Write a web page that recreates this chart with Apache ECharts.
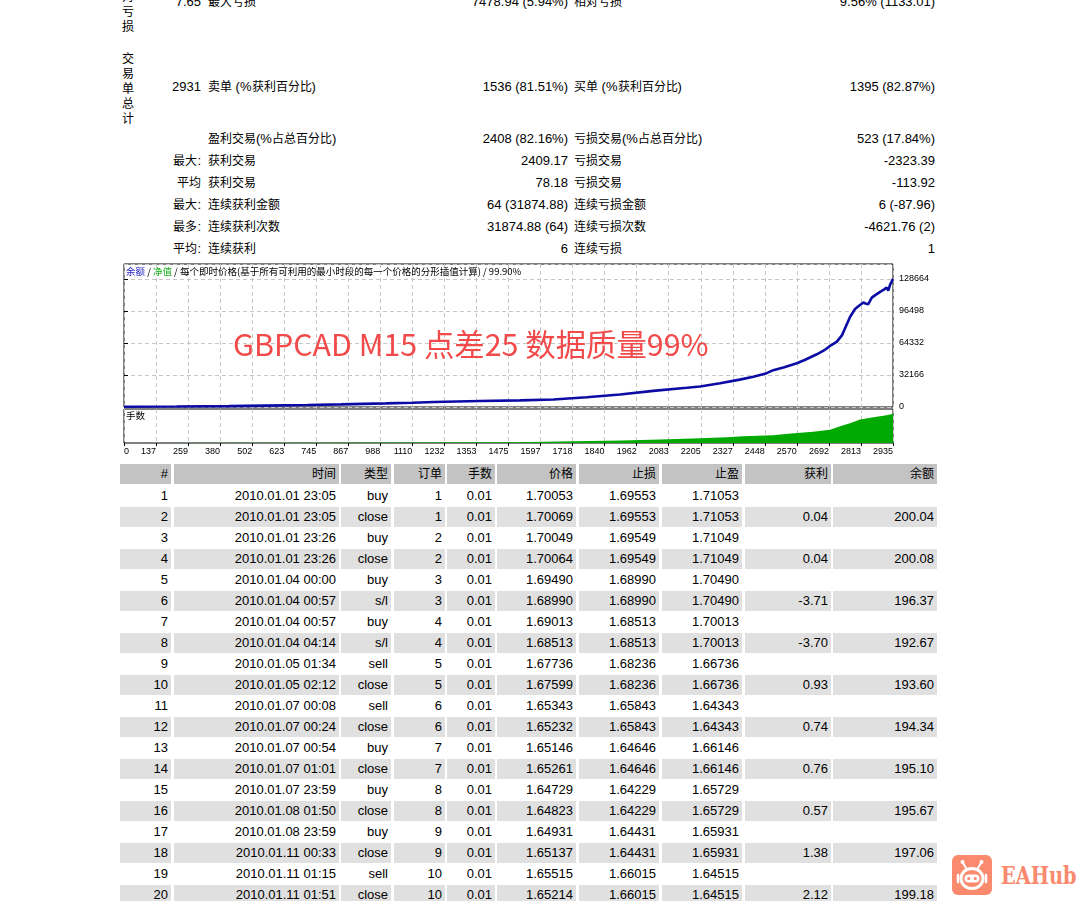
<!DOCTYPE html>
<html><head><meta charset="utf-8">
<script src="https://cdn.jsdelivr.net/npm/echarts@6/dist/echarts.min.js"></script>
<style>
@font-face{font-family:'cjk12';src:local('Noto Sans CJK SC'),local('Noto Sans CJK SC Regular'),local('NotoSansCJKsc-Regular');size-adjust:92%;}
html,body{margin:0;padding:0;background:#fff;width:1091px;height:901px;overflow:hidden;}
body{position:relative;font-family:'Liberation Sans','cjk12','Noto Sans CJK SC',sans-serif;font-size:13px;color:#000;}
.t{position:absolute;white-space:nowrap;line-height:16px;height:16px;}
.vert{position:absolute;left:121px;width:14px;font-size:12px;line-height:15px;text-align:center;font-family:'Noto Sans CJK SC',sans-serif;}
#chart{position:absolute;left:0;top:0;width:1091px;height:462px;}
.cell{position:absolute;height:20px;line-height:20px;text-align:right;padding-right:3px;box-sizing:border-box;white-space:nowrap;}
#logo{position:absolute;left:952px;top:855px;width:40px;height:40px;}
#brand{position:absolute;left:1001px;top:860px;height:32px;line-height:32px;font-family:'DejaVu Serif Condensed','DejaVu Serif',serif;font-weight:bold;font-size:25px;color:#f98a6d;transform:scaleX(0.86);transform-origin:left center;white-space:nowrap;}
</style></head>
<body>
<div id="stats"></div>
<div id="chart"></div>
<div id="table"></div>
<svg id="logo" viewBox="0 0 40 40">
  <rect width="40" height="40" rx="6" fill="#f98a6d"/>
  <line x1="14" y1="13" x2="11" y2="8" stroke="#fff" stroke-width="2" stroke-linecap="round"/>
  <circle cx="10.5" cy="7" r="2" fill="#fff"/>
  <line x1="26" y1="13" x2="29" y2="8" stroke="#fff" stroke-width="2" stroke-linecap="round"/>
  <circle cx="29.5" cy="7" r="2" fill="#fff"/>
  <ellipse cx="20" cy="23.5" rx="11" ry="10" fill="none" stroke="#fff" stroke-width="3"/>
  <rect x="12.5" y="19.5" width="15" height="8" rx="4" fill="#fff"/>
  <circle cx="16.8" cy="23.5" r="1.6" fill="#f98a6d"/>
  <circle cx="23.2" cy="23.5" r="1.6" fill="#f98a6d"/>
  <line x1="6" y1="20" x2="6" y2="27" stroke="#fff" stroke-width="2.5" stroke-linecap="round"/>
  <line x1="34" y1="20" x2="34" y2="27" stroke="#fff" stroke-width="2.5" stroke-linecap="round"/>
</svg>
<div id="brand">EAHub</div>
<script>
// ---------- data ----------
const statGroupLabels = ['绝对亏损', '交易单总计'];
const statLeft   = ['7.65', '2931', '', '最大:', '平均', '最大:', '最多:', '平均:'];
const statLabelA = ['最大亏损', '卖单 (%获利百分比)', '盈利交易(%占总百分比)', '获利交易', '获利交易', '连续获利金额', '连续获利次数', '连续获利'];
const statValueA = ['7478.94 (5.94%)', '1536 (81.51%)', '2408 (82.16%)', '2409.17', '78.18', '64 (31874.88)', '31874.88 (64)', '6'];
const statLabelB = ['相对亏损', '买单 (%获利百分比)', '亏损交易(%占总百分比)', '亏损交易', '亏损交易', '连续亏损金额', '连续亏损次数', '连续亏损'];
const statValueB = ['9.56% (1133.01)', '1395 (82.87%)', '523 (17.84%)', '-2323.39', '-113.92', '6 (-87.96)', '-4621.76 (2)', '1'];

const chartTitle = '每个即时价格(基于所有可利用的最小时段的每一个价格的分形插值计算)';
const balanceName = '余额';
const equityName = '净值';
const qualityLabel = '99.90%';
const lotsPanelName = '手数';
const watermark = 'GBPCAD M15 点差25 数据质量99%';

const xTickLabels = ['0','137','259','380','502','623','745','867','988','1110','1232','1353','1475','1597','1718','1840','1962','2083','2205','2327','2448','2570','2692','2813','2935'];
const xMax = 2935;
const yTickInterval = 32166;
const yMax = 143742;
const lotMax = 10;

const balanceTrades = [0,200,400,537,700,827,1000,1100,1183,1358,1511,1639,1766,1893,2020,2148,2199,2275,2350,2402,2453,2478,2520,2568,2600,2644,2675,2701,2720,2740,2755,2771,2790,2809,2822,2830,2840,2854,2870,2886,2900,2911,2917,2924,2930,2935];
const balanceValues = [200,500,900,1400,2000,2600,3600,4300,5000,6000,6700,7600,9800,12500,16200,19300,20600,23800,27500,30500,34000,37000,40000,44000,47500,53000,57500,62500,65500,72000,81000,90500,98500,102500,105000,104000,103200,110000,113000,115800,118000,120000,117000,123000,126000,128800];

const lotTrades = [0,600,1100,1500,1657,1900,2046,2199,2300,2363,2477,2535,2630,2695,2733,2771,2809,2860,2911,2935];
const lotValues = [0.01,0.05,0.15,0.25,0.44,0.74,1.03,1.41,1.71,2.0,2.29,2.7,3.29,3.88,4.94,5.82,6.91,7.59,8.18,8.59];

const tblHeaders = ['#','时间','类型','订单','手数','价格','止损','止盈','获利','余额'];
const tblNo      = ['1','2','3','4','5','6','7','8','9','10','11','12','13','14','15','16','17','18','19','20'];
const tblTime    = ['2010.01.01 23:05','2010.01.01 23:05','2010.01.01 23:26','2010.01.01 23:26','2010.01.04 00:00','2010.01.04 00:57','2010.01.04 00:57','2010.01.04 04:14','2010.01.05 01:34','2010.01.05 02:12','2010.01.07 00:08','2010.01.07 00:24','2010.01.07 00:54','2010.01.07 01:01','2010.01.07 23:59','2010.01.08 01:50','2010.01.08 23:59','2010.01.11 00:33','2010.01.11 01:15','2010.01.11 01:51'];
const tblType    = ['buy','close','buy','close','buy','s/l','buy','s/l','sell','close','sell','close','buy','close','buy','close','buy','close','sell','close'];
const tblOrder   = ['1','1','2','2','3','3','4','4','5','5','6','6','7','7','8','8','9','9','10','10'];
const tblLots    = ['0.01','0.01','0.01','0.01','0.01','0.01','0.01','0.01','0.01','0.01','0.01','0.01','0.01','0.01','0.01','0.01','0.01','0.01','0.01','0.01'];
const tblPrice   = ['1.70053','1.70069','1.70049','1.70064','1.69490','1.68990','1.69013','1.68513','1.67736','1.67599','1.65343','1.65232','1.65146','1.65261','1.64729','1.64823','1.64931','1.65137','1.65515','1.65214'];
const tblSL      = ['1.69553','1.69553','1.69549','1.69549','1.68990','1.68990','1.68513','1.68513','1.68236','1.68236','1.65843','1.65843','1.64646','1.64646','1.64229','1.64229','1.64431','1.64431','1.66015','1.66015'];
const tblTP      = ['1.71053','1.71053','1.71049','1.71049','1.70490','1.70490','1.70013','1.70013','1.66736','1.66736','1.64343','1.64343','1.66146','1.66146','1.65729','1.65729','1.65931','1.65931','1.64515','1.64515'];
const tblProfit  = ['','0.04','','0.04','','-3.71','','-3.70','','0.93','','0.74','','0.76','','0.57','','1.38','','2.12'];
const tblBalance = ['','200.04','','200.08','','196.37','','192.67','','193.60','','194.34','','195.10','','195.67','','197.06','','199.18'];

// ---------- layout (not data) ----------
const statRowY = [2,87,139,161,183,205,227,249];
const groupTop = [-27.5, 49.5];
const colBox = [[120,171],[174,339],[341,391],[394,445],[447,495],[497,576],[579,659],[662,742],[745,831],[833,937]];

// ---------- stats block ----------
(function(){
  const s = document.getElementById('stats');
  let h = '';
  statGroupLabels.forEach((g,i)=>{
    h += '<div class="vert" style="top:'+groupTop[i]+'px">' + g.split('').join('<br>') + '</div>';
  });
  function right(txt, edge, y){ return '<div class="t" style="left:'+(edge-300)+'px;width:300px;text-align:right;top:'+(y-8)+'px">'+txt+'</div>'; }
  function left(txt, x, y){ return '<div class="t" style="left:'+x+'px;top:'+(y-8)+'px">'+txt+'</div>'; }
  statRowY.forEach((y,i)=>{
    h += right(statLeft[i], 201, y);
    h += left(statLabelA[i], 208, y);
    h += right(statValueA[i], 568, y);
    h += left(statLabelB[i], 574, y);
    h += right(statValueB[i], 935, y);
  });
  s.innerHTML = h;
})();

// ---------- trade table ----------
(function(){
  const t = document.getElementById('table');
  const cols = [tblNo,tblTime,tblType,tblOrder,tblLots,tblPrice,tblSL,tblTP,tblProfit,tblBalance];
  let h = '';
  tblHeaders.forEach((txt,c)=>{
    h += '<div class="cell" style="left:'+colBox[c][0]+'px;width:'+(colBox[c][1]-colBox[c][0])+'px;top:464px;background:#c3c3c3">'+txt+'</div>';
  });
  for (let r=0; r<tblNo.length; r++){
    const top = 486 + 21*r;
    const bg = (r%2===1) ? '#e0e0e0' : '#ffffff';
    cols.forEach((arr,c)=>{
      h += '<div class="cell" style="left:'+colBox[c][0]+'px;width:'+(colBox[c][1]-colBox[c][0])+'px;top:'+top+'px;background:'+bg+'">'+arr[r]+'</div>';
    });
  }
  t.innerHTML = h;
})();

// ---------- chart ----------
const chart = echarts.init(document.getElementById('chart'));
const F = 'Liberation Sans, Noto Sans CJK SC, sans-serif';
const dash = {color:'#c6c6c6', type:[4,3], width:1};
chart.setOption({
  animation:false,
  title:[
    {left:126, top:267, padding:0,
     text:'{b|'+balanceName+'} / {g|'+equityName+'} / '+chartTitle+' / '+qualityLabel,
     textStyle:{fontSize:9.5, fontWeight:'normal', color:'#000', fontFamily:'Noto Sans CJK SC',
       rich:{b:{color:'#2424c8',fontSize:9.5,fontFamily:'Noto Sans CJK SC'}, g:{color:'#18b018',fontSize:9.5,fontFamily:'Noto Sans CJK SC'}}}},
    {left:126, top:411, padding:0, text:lotsPanelName,
     textStyle:{fontSize:9.5, fontWeight:'normal', color:'#000', fontFamily:'Noto Sans CJK SC'}}
  ],
  graphic:[{type:'text', left:233, top:329, z:100,
    style:{text:watermark, fontSize:30.4, fill:'#f24a4a', fontFamily:'Noto Sans CJK SC'}}],
  grid:[
    {left:124, top:264, width:769, height:143, show:true, borderColor:'#000', borderWidth:1, backgroundColor:'#fff'},
    {left:124, top:409, width:769, height:34, show:true, borderColor:'#000', borderWidth:1, backgroundColor:'#fff'}
  ],
  xAxis:[
    {type:'category', gridIndex:0, position:'bottom', data:xTickLabels, boundaryGap:false,
     axisLine:{show:false}, axisTick:{show:false}, axisLabel:{show:false},
     splitLine:{show:true, interval:0, lineStyle:dash}},
    {type:'value', gridIndex:0, position:'bottom', min:0, max:xMax, show:false},
    {type:'category', gridIndex:1, position:'bottom', data:xTickLabels, boundaryGap:false,
     axisLine:{show:false},
     axisTick:{show:true, inside:false, length:3, interval:0, lineStyle:{color:'#000'}},
     axisLabel:{interval:0, align:'right', margin:4, fontSize:9, color:'#000', fontFamily:F, hideOverlap:false,
       formatter:(v,i)=> i===0 ? '' : v},
     splitLine:{show:true, interval:0, lineStyle:dash}},
    {type:'value', gridIndex:1, position:'bottom', offset:0, min:0, max:xMax, interval:xMax,
     axisLine:{show:false}, axisTick:{show:false}, splitLine:{show:false},
     axisLabel:{align:'left', margin:4, fontSize:9, color:'#000', fontFamily:F, showMaxLabel:false,
       formatter:v=> v===0 ? xTickLabels[0] : ''}}
  ],
  yAxis:[
    {type:'value', gridIndex:0, position:'right', min:0, max:yMax, interval:yTickInterval,
     axisLine:{show:false},
     axisTick:{show:true, inside:false, length:4, lineStyle:{color:'#000'}},
     axisLabel:{margin:6, fontSize:9, color:'#000', fontFamily:F, showMaxLabel:false, formatter:v=>String(v)},
     splitLine:{show:true, lineStyle:dash}},
    {type:'value', gridIndex:1, min:0, max:lotMax, show:false}
  ],
  series:[
    {type:'line', name:balanceName, xAxisIndex:1, yAxisIndex:0,
     data:balanceTrades.map((t,i)=>[t,balanceValues[i]]),
     showSymbol:false, lineStyle:{color:'#0c0ca4', width:2.6}, itemStyle:{color:'#0c0ca4'}, z:5},
    {type:'line', name:lotsPanelName, xAxisIndex:3, yAxisIndex:1,
     data:lotTrades.map((t,i)=>[t,lotValues[i]]),
     showSymbol:false, lineStyle:{width:0, color:'#00aa00'}, itemStyle:{color:'#00aa00'},
     areaStyle:{color:'#00aa00', opacity:1}}
  ]
});
</script>
</body></html>
